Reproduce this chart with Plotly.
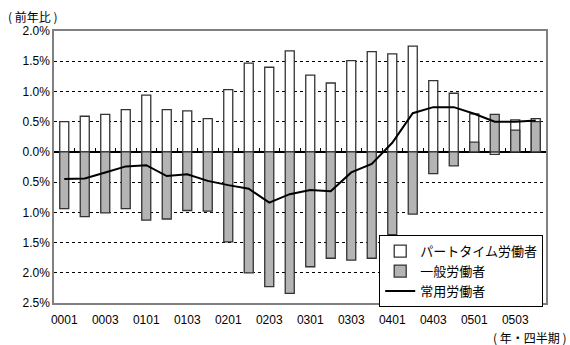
import plotly.graph_objects as go

# Quarter labels (year + quarter) and year-on-year changes (%)
categories = ["0001", "0002", "0003", "0004", "0101", "0102", "0103", "0104",
              "0201", "0202", "0203", "0204", "0301", "0302", "0303", "0304",
              "0401", "0402", "0403", "0404", "0501", "0502", "0503", "0504"]
part_time = [0.50, 0.59, 0.62, 0.70, 0.94, 0.70, 0.68, 0.55,
             1.03, 1.47, 1.40, 1.67, 1.27, 1.14, 1.51, 1.66,
             1.62, 1.75, 1.18, 0.97, 0.63, -0.04, 0.53, 0.55]
general = [-0.94, -1.07, -1.01, -0.94, -1.13, -1.11, -0.97, -0.98,
           -1.49, -2.00, -2.23, -2.34, -1.90, -1.76, -1.79, -1.76,
           -1.37, -1.03, -0.36, -0.23, 0.16, 0.62, 0.36, 0.50]
regular = [-0.45, -0.44, -0.34, -0.24, -0.22, -0.40, -0.37, -0.48,
           -0.55, -0.61, -0.84, -0.70, -0.63, -0.65, -0.34, -0.20,
           0.15, 0.64, 0.74, 0.74, 0.63, 0.50, 0.50, 0.52]
y_ticks = [2.0, 1.5, 1.0, 0.5, 0.0, -0.5, -1.0, -1.5, -2.0, -2.5]
x_ticks = categories[::2]

FONT = "'Liberation Sans', Arial, 'Noto Sans CJK JP', sans-serif"
CJK = "'Noto Sans CJK JP', 'Liberation Sans', sans-serif"
y_min, y_max = -2.5, 2.0

fig = go.Figure()
fig.add_trace(go.Bar(
    x=categories, y=part_time, name="パートタイム労働者", width=0.44,
    marker=dict(color="white", line=dict(color="#333333", width=1.3)),
))
fig.add_trace(go.Bar(
    x=categories, y=general, name="一般労働者", width=0.44,
    marker=dict(color="#b4b4b4", line=dict(color="#333333", width=1.3)),
))
fig.add_trace(go.Scatter(
    x=categories, y=regular, name="常用労働者", mode="lines",
    line=dict(color="black", width=2),
))
# invisible helper trace so the zero-line tick axis is drawn
fig.add_trace(go.Scatter(
    x=[-0.5, len(categories) - 0.5], y=[0, 0], xaxis="x2", mode="lines",
    line=dict(color="rgba(0,0,0,0)", width=0), showlegend=False, hoverinfo="skip",
))

fig.update_layout(
    width=570, height=345,
    margin=dict(l=54, r=24, t=31, b=42),
    paper_bgcolor="white", plot_bgcolor="white",
    barmode="overlay",
    font=dict(family=FONT, size=12, color="black"),
    showlegend=True,
    legend=dict(
        x=0.661, y=0.249, xanchor="left", yanchor="top",
        bgcolor="white", bordercolor="black", borderwidth=1,
        font=dict(family=CJK, size=13, color="black"),
        itemwidth=30, tracegroupgap=0,
    ),
    xaxis=dict(
        type="category", range=[-0.5, len(categories) - 0.5],
        tickmode="array", tickvals=x_ticks, ticktext=x_ticks,
        showgrid=False, showline=True, linecolor="#808080", linewidth=1.5,
        mirror=True, ticks="", ticklabelstandoff=5,
        tickfont=dict(size=12),
    ),
    xaxis2=dict(
        overlaying="x", anchor="free", position=(0 - y_min) / (y_max - y_min),
        range=[-0.5, len(categories) - 0.5], side="bottom",
        tickmode="array", tickvals=[i + 0.5 for i in range(len(categories) - 1)],
        ticks="inside", ticklen=4, tickwidth=1, tickcolor="black",
        showticklabels=False, showgrid=False, showline=False, zeroline=False,
    ),
    yaxis=dict(
        range=[y_min, y_max],
        tickmode="array", tickvals=y_ticks,
        ticktext=[f"{abs(v):.1f}%" for v in y_ticks],
        showgrid=True, gridcolor="black", gridwidth=1, griddash="dot",
        zeroline=True, zerolinecolor="black", zerolinewidth=1.5,
        showline=True, linecolor="#808080", linewidth=1.5, mirror=True,
        ticks="", tickfont=dict(size=12),
    ),
    annotations=[
        dict(text="( 前年比 )", xref="paper", yref="paper", x=-0.097, y=1.052,
             xanchor="left", yanchor="middle", showarrow=False,
             font=dict(family=CJK, size=12)),
        dict(text="( 年・四半期 )", xref="paper", yref="paper", x=0.888, y=-0.128,
             xanchor="left", yanchor="middle", showarrow=False,
             font=dict(family=CJK, size=12)),
    ],
)

fig.write_html("out.html")
